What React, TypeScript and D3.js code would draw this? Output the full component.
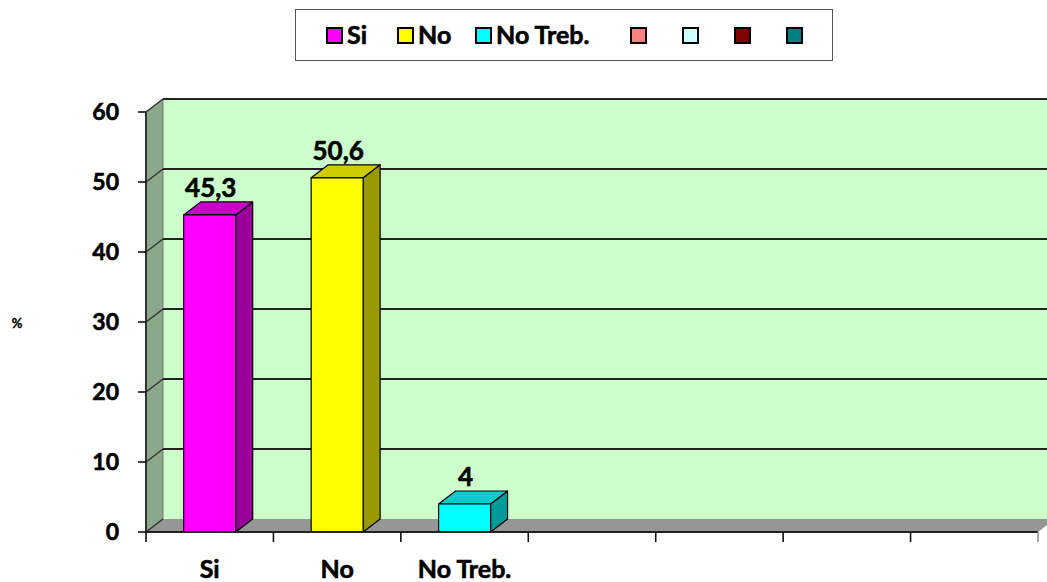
import React from 'react'
import * as d3 from 'd3'

// categories on the x axis (the chart has 7 slots, only 3 filled)
const categories = ['Si', 'No', 'No Treb.', '', '', '', '']
const values = [45.3, 50.6, 4]
const valueLabels = ['45,3', '50,6', '4']
const yTicks = [0, 10, 20, 30, 40, 50, 60]

const legendNames = ['Si', 'No', 'No Treb.', '', '', '', '']
const legendColors = ['#ff00ff', '#ffff00', '#00ffff', '#ff8080', '#ccffff', '#800000', '#008080']
const barColors = [
  { front: '#ff00ff', side: '#990099', top: '#cc00cc' },
  { front: '#ffff00', side: '#999900', top: '#cccc00' },
  { front: '#00ffff', side: '#009999', top: '#00cccc' },
]

const width = 1047
const height = 582
const FONT = 'Lato, "Open Sans", sans-serif'

export default function App() {
  const left = 146, right = 1038, bottom = 532, top = 112
  const dx = 17, dy = -13

  const y = d3.scaleLinear().domain([0, 60]).range([bottom, top])
  const x = d3.scaleBand<number>()
    .domain(d3.range(categories.length))
    .range([left, right])
    .paddingInner(0.592)
    .paddingOuter(0.296)
  const step = x.step()
  const bw = x.bandwidth()

  const pts = (p: number[][]) => p.map(d => d.join(',')).join(' ')
  const bold = { fontWeight: 'bold' as const, stroke: '#000', strokeWidth: 0.6 }

  // legend layout
  const legendItems = [327, 398, 476, 631, 683, 735, 787]

  return (
    <svg width={width} height={height} style={{ position: 'absolute', left: 0, top: 0, fontFamily: FONT }}>
      <rect width={width} height={height} fill="#fff" />

      {/* back wall */}
      <rect x={left + dx} y={top + dy} width={right - left + 20} height={bottom - top} fill="#ccffcc" />
      {/* left wall */}
      <polygon points={pts([[left, bottom], [left + dx, bottom + dy], [left + dx, top + dy], [left, top]])}
        fill="#8aa88a" stroke="#777" strokeWidth={1} />
      {/* floor */}
      <polygon points={pts([[left, bottom], [right, bottom], [right + dx, bottom + dy], [left + dx, bottom + dy]])}
        fill="#969696" />

      {/* gridlines */}
      {yTicks.map(t => (
        <g key={t}>
          {t > 0 && <line x1={left + dx} x2={width + 10} y1={y(t) + dy} y2={y(t) + dy} stroke="#222" strokeWidth={2} />}
          <line x1={left} x2={left + dx} y1={y(t)} y2={y(t) + dy} stroke="#333" strokeWidth={1.5} />
        </g>
      ))}

      {/* bars */}
      {values.map((v, i) => {
        const x0 = x(i)!
        const x1 = x0 + bw
        const yv = y(v)
        const c = barColors[i]
        return (
          <g key={i} stroke="#000" strokeWidth={1.2} strokeLinejoin="round">
            <polygon points={pts([[x1, bottom], [x1 + dx, bottom + dy], [x1 + dx, yv + dy], [x1, yv]])} fill={c.side} />
            <polygon points={pts([[x0, yv], [x0 + dx, yv + dy], [x1 + dx, yv + dy], [x1, yv]])} fill={c.top} />
            <rect x={x0} y={yv} width={bw} height={bottom - yv} fill={c.front} />
          </g>
        )
      })}
      {values.map((v, i) => (
        <text key={i} x={x(i)! + bw / 2 + 1} y={y(v) + dy - 5} textAnchor="middle"
          fontSize={26} {...bold} fill="#000">{valueLabels[i]}</text>
      ))}

      {/* y axis */}
      <line x1={left} x2={left} y1={top} y2={bottom} stroke="#333" strokeWidth={2} />
      {yTicks.map(t => (
        <g key={t}>
          <line x1={left - 8} x2={left} y1={y(t)} y2={y(t)} stroke="#000" strokeWidth={1.5} />
          <text x={left - 27} y={y(t) + 8} textAnchor="end" fontSize={23} {...bold}>{t}</text>
        </g>
      ))}
      <text x={17} y={328} textAnchor="middle" fontSize={13} {...bold} strokeWidth={0.3}>%</text>

      {/* x axis */}
      <line x1={left} x2={right} y1={bottom} y2={bottom} stroke="#222" strokeWidth={2} />
      {d3.range(categories.length + 1).map(i => (
        <line key={i} x1={left + i * step} x2={left + i * step} y1={bottom} y2={bottom + 10}
          stroke={i === categories.length ? '#888' : '#000'} strokeWidth={1.5} />
      ))}
      {categories.map((c, i) => (
        <text key={i} x={x(i)! + bw / 2} y={578} textAnchor="middle" fontSize={25} {...bold}>{c}</text>
      ))}

      {/* legend */}
      <rect x={295.5} y={9.5} width={537} height={51} fill="#fff" stroke="#555" strokeWidth={1} />
      {legendNames.map((n, i) => (
        <g key={i}>
          <rect x={legendItems[i]} y={28} width={15} height={15} fill={legendColors[i]} stroke="#000" strokeWidth={2} />
          {n && <text x={legendItems[i] + 20} y={44} fontSize={25} {...bold}>{n}</text>}
        </g>
      ))}
    </svg>
  )
}
